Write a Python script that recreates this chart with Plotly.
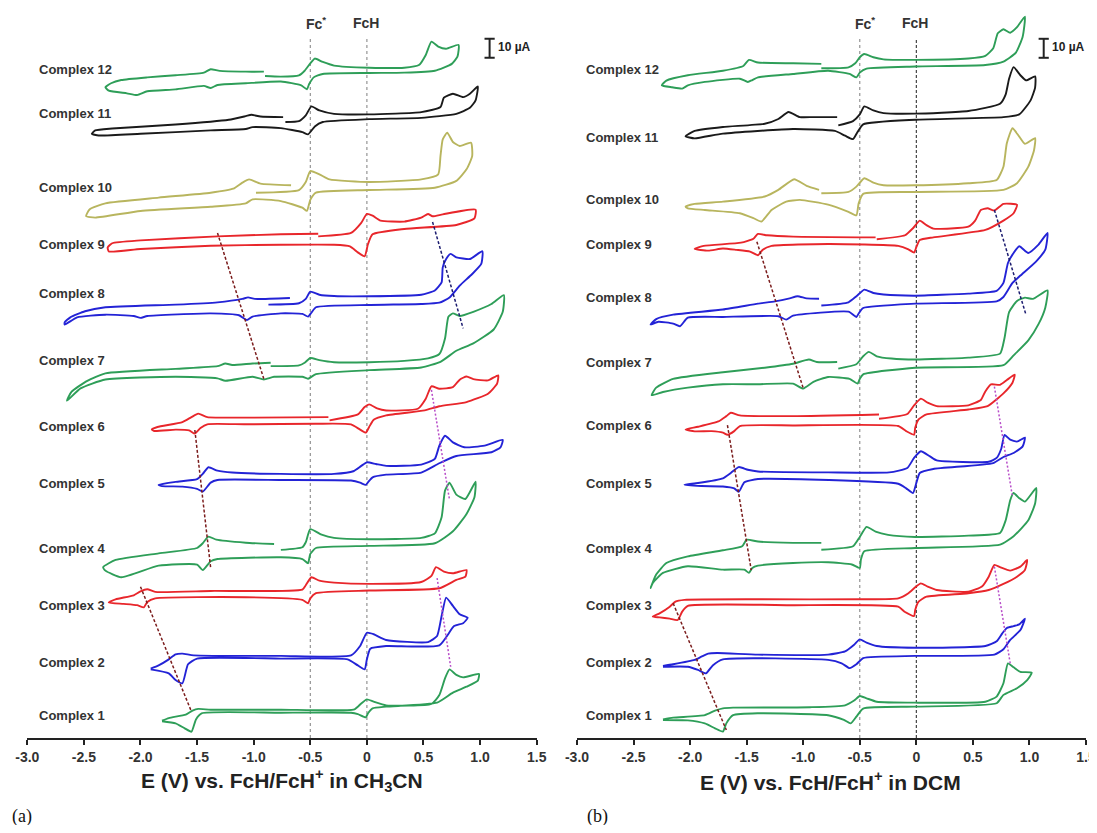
import plotly.graph_objects as go

# ---------------- data: (E in V, current in uA relative to each trace's baseline) ----------------
# Panel (a): CH3CN
a1 = [(-1.81,-3.0),(-1.75,-1.6),(-1.60,0.2),(-1.54,2.3),(-1.49,3.2),(-1.38,2.8),(-0.76,2.8),(-0.11,3.0),(-0.05,6.1),(0.00,8.2),(0.06,7.0),(0.17,5.1),(0.57,5.8),(0.64,10.5),(0.69,19.3),(0.73,24.0),(0.79,21.1),(0.85,19.8),(0.99,21.6),(0.98,18.1),(0.88,14.9),(0.76,11.8),(0.62,6.5),(0.17,4.4),(0.05,3.5),(0.01,0.9),(-0.01,-1.2),(-0.08,0.5),(-0.14,1.2),(-0.76,1.2),(-1.46,0.9),(-1.51,-2.3),(-1.55,-8.8),(-1.61,-7.0),(-1.69,-4.4),(-1.81,-3.3)]
a2 = [(-1.91,-3.5),(-1.84,-1.8),(-1.75,1.4),(-1.69,4.0),(-1.63,4.4),(-1.53,3.5),(-0.76,3.2),(-0.14,3.5),(-0.06,8.4),(0.00,15.4),(0.06,14.6),(0.17,11.6),(0.54,10.5),(0.62,13.7),(0.66,24.2),(0.70,33.9),(0.76,29.5),(0.82,25.1),(0.89,23.3),(0.85,20.4),(0.77,18.9),(0.64,8.8),(0.17,8.4),(0.03,7.0),(0.00,1.4),(-0.02,-3.9),(-0.08,-1.8),(-0.17,1.4),(-0.76,1.8),(-1.50,1.8),(-1.58,-1.2),(-1.63,-11.2),(-1.69,-9.5),(-1.75,-6.0),(-1.91,-3.9)]
a3 = [(-2.28,1.8),(-2.22,3.5),(-2.06,5.6),(-2.00,7.7),(-1.94,8.8),(-1.87,7.4),(-1.38,7.9),(-0.57,8.6),(-0.54,10.9),(-0.49,15.1),(-0.42,13.3),(-0.29,12.3),(0.02,11.6),(0.48,12.6),(0.57,15.8),(0.61,20.4),(0.68,18.1),(0.76,17.2),(0.88,18.9),(0.87,15.4),(0.79,13.7),(0.64,9.3),(0.02,8.1),(-0.45,6.7),(-0.50,4.0),(-0.52,1.4),(-0.57,3.2),(-1.07,4.6),(-1.87,4.0),(-1.94,2.1),(-1.97,-0.7),(-2.03,0.4),(-2.15,1.1),(-2.28,1.8)]
a4 = [(-0.76,-0.5),(-0.57,0.9),(-0.54,3.5),(-0.50,10.4),(-0.40,7.5),(-0.29,5.8),(0.02,5.1),(0.48,5.8),(0.60,8.2),(0.66,16.7),(0.69,30.7),(0.73,34.9),(0.79,28.6),(0.87,26.3),(0.96,35.4),(0.95,27.2),(0.88,18.4),(0.76,9.3),(0.60,3.0),(0.02,1.6),(-0.45,0.5),(-0.50,-2.6),(-0.52,-7.5),(-0.57,-5.3),(-0.76,-4.4),(-1.32,-5.3),(-1.38,-6.5),(-1.45,-11.1),(-1.50,-8.2),(-1.84,-8.8),(-2.17,-14.9),(-2.31,-11.4),(-2.33,-9.6),(-2.22,-5.8),(-1.84,-2.3),(-1.50,0.5),(-1.45,3.0),(-1.40,6.5),(-1.33,4.9),(-1.07,3.3),(-0.82,2.6)]
a5 = [(-1.84,-0.4),(-1.69,1.1),(-1.50,2.5),(-1.45,5.3),(-1.40,8.8),(-1.32,7.0),(-1.19,6.0),(-0.76,5.3),(-0.29,5.3),(-0.12,6.7),(-0.05,9.5),(0.00,11.4),(0.08,10.5),(0.17,9.5),(0.48,10.2),(0.60,13.2),(0.64,20.2),(0.69,25.4),(0.76,21.9),(0.86,19.3),(1.04,20.2),(1.20,23.2),(1.18,19.3),(1.10,16.7),(0.79,14.7),(0.64,10.9),(0.48,6.0),(0.17,4.9),(0.05,3.5),(0.01,0.9),(-0.01,-0.5),(-0.06,0.7),(-0.14,1.8),(-0.76,2.1),(-1.32,2.1),(-1.38,0.7),(-1.45,-4.0),(-1.50,-2.6),(-1.63,-1.4),(-1.81,-1.1),(-1.84,-0.4)]
a6 = [(-0.33,3.0),(-0.08,6.1),(-0.02,10.0),(0.02,11.4),(0.09,9.3),(0.17,8.2),(0.45,9.1),(0.52,14.4),(0.57,20.9),(0.64,19.6),(0.76,20.5),(0.82,24.4),(0.88,26.1),(0.94,24.7),(1.07,24.0),(1.16,26.7),(1.15,22.3),(1.07,17.0),(0.88,12.6),(0.64,10.4),(0.51,8.2),(0.17,5.6),(0.06,3.3),(0.02,-0.5),(-0.01,-3.5),(-0.06,-1.9),(-0.14,0.9),(-0.45,1.2),(-1.07,0.9),(-1.41,0.9),(-1.47,-1.1),(-1.52,-4.0),(-1.57,-2.3),(-1.69,-1.9),(-1.88,-2.6),(-1.90,-1.8),(-1.85,-0.5),(-1.63,2.1),(-1.55,4.7),(-1.49,6.5),(-1.41,4.7),(-1.07,4.4),(-0.34,4.7)]
a7 = [(-0.85,-3.2),(-0.60,-2.8),(-0.55,-1.4),(-0.50,1.1),(-0.42,0.0),(-0.29,-1.1),(0.02,-1.1),(0.33,-0.4),(0.54,0.9),(0.64,3.2),(0.69,11.4),(0.72,22.8),(0.76,24.6),(0.82,23.2),(0.94,25.4),(1.10,29.5),(1.21,34.2),(1.20,25.4),(1.12,16.1),(0.94,8.8),(0.79,4.9),(0.65,-0.9),(0.48,-3.9),(0.02,-5.3),(-0.45,-7.4),(-0.52,-9.8),(-0.57,-8.8),(-0.82,-8.8),(-0.91,-10.2),(-1.01,-8.8),(-1.25,-10.9),(-1.32,-9.6),(-1.69,-8.8),(-2.31,-10.2),(-2.53,-14.9),(-2.65,-21.4),(-2.61,-16.7),(-2.47,-10.9),(-2.31,-7.0),(-1.69,-4.6),(-1.32,-3.2),(-1.25,-1.8),(-1.19,-2.6),(-1.01,-1.8),(-0.85,-1.4)]
a8 = [(-0.87,-5.6),(-0.60,-4.9),(-0.54,-2.6),(-0.50,1.2),(-0.42,-0.4),(-0.29,-1.1),(0.02,-1.2),(0.48,-0.4),(0.60,1.8),(0.66,6.1),(0.67,14.0),(0.70,18.4),(0.74,21.1),(0.79,19.3),(0.91,18.4),(1.02,22.5),(1.01,15.8),(0.93,10.5),(0.82,4.4),(0.73,-1.8),(0.64,-4.6),(0.48,-5.3),(0.02,-5.8),(-0.45,-7.0),(-0.49,-9.8),(-0.52,-11.9),(-0.57,-10.5),(-0.76,-10.2),(-1.01,-11.9),(-1.06,-13.7),(-1.13,-11.2),(-1.38,-10.2),(-1.94,-11.6),(-2.00,-12.6),(-2.06,-11.6),(-2.31,-10.9),(-2.56,-12.3),(-2.67,-16.1),(-2.67,-14.9),(-2.62,-12.3),(-2.49,-9.1),(-2.31,-7.0),(-1.69,-5.6),(-1.32,-4.4),(-1.10,-2.6),(-1.05,-1.8),(-0.99,-2.6),(-0.68,-2.1)]
a9 = [(-0.43,4.0),(-0.14,5.8),(-0.05,11.1),(0.00,15.8),(0.05,14.9),(0.12,12.3),(0.33,11.8),(0.48,13.9),(0.54,15.8),(0.58,14.6),(0.67,15.6),(0.96,18.1),(0.95,13.5),(0.79,10.0),(0.33,7.9),(0.05,5.1),(0.01,0.0),(-0.02,-6.5),(-0.08,-4.4),(-0.15,-1.2),(-0.29,-0.4),(-0.76,-0.4),(-1.38,-0.9),(-2.00,-2.6),(-2.28,-3.9),(-2.29,-1.8),(-2.25,0.4),(-2.00,1.9),(-1.32,4.0),(-0.76,5.1),(-0.43,5.4)]
a10 = [(-0.98,-3.0),(-0.60,-1.6),(-0.54,2.6),(-0.50,8.4),(-0.42,6.7),(-0.33,4.0),(0.02,2.6),(0.48,4.0),(0.63,6.7),(0.65,16.3),(0.67,25.1),(0.71,28.6),(0.76,23.7),(0.82,21.6),(0.92,23.3),(0.93,16.3),(0.88,9.3),(0.79,3.2),(0.60,-0.4),(0.02,-1.6),(-0.45,-3.0),(-0.50,-6.8),(-0.53,-12.6),(-0.57,-10.9),(-0.76,-7.4),(-1.01,-6.5),(-1.07,-8.6),(-1.38,-10.4),(-2.00,-12.6),(-2.40,-16.1),(-2.48,-15.3),(-2.45,-11.8),(-2.31,-8.6),(-1.84,-5.6),(-1.38,-3.0),(-1.18,-0.9),(-1.10,2.3),(-1.04,4.0),(-0.94,1.8),(-0.67,0.9)]
a11 = [(-0.72,-4.7),(-0.60,-4.2),(-0.54,-1.2),(-0.49,3.5),(-0.42,1.4),(-0.29,-0.4),(0.02,-0.7),(0.48,0.5),(0.65,3.2),(0.68,8.1),(0.76,10.2),(0.85,8.4),(0.91,10.2),(0.98,14.0),(0.96,6.7),(0.91,2.8),(0.79,-0.4),(0.48,-2.5),(0.02,-3.2),(-0.39,-4.7),(-0.46,-7.0),(-0.52,-11.2),(-0.57,-10.0),(-0.76,-7.9),(-1.01,-7.4),(-1.07,-8.4),(-1.38,-9.1),(-2.00,-10.9),(-2.37,-11.8),(-2.43,-10.9),(-2.40,-9.1),(-2.25,-8.1),(-1.69,-6.0),(-1.22,-3.5),(-1.07,-1.6),(-1.02,-0.9),(-0.94,-1.8),(-0.74,-2.1)]
a12 = [(-0.90,-3.2),(-0.76,-3.5),(-0.60,-2.8),(-0.55,-0.4),(-0.50,3.5),(-0.46,6.0),(-0.39,4.2),(-0.29,2.3),(0.02,1.2),(0.33,1.2),(0.46,2.6),(0.52,7.9),(0.57,14.9),(0.63,12.3),(0.70,11.2),(0.81,13.2),(0.80,7.0),(0.75,3.2),(0.60,-0.4),(0.33,-1.4),(0.02,-1.6),(-0.39,-2.1),(-0.47,-3.9),(-0.51,-7.4),(-0.53,-10.2),(-0.58,-8.1),(-0.76,-6.1),(-1.07,-7.0),(-1.32,-7.9),(-1.38,-9.5),(-1.44,-8.4),(-1.69,-10.2),(-1.94,-11.2),(-2.03,-13.2),(-2.12,-12.3),(-2.28,-10.9),(-2.31,-9.1),(-2.26,-7.0),(-2.17,-5.3),(-1.94,-3.9),(-1.69,-2.8),(-1.44,-1.4),(-1.38,0.4),(-1.30,-0.5),(-1.07,-0.9),(-0.91,-0.9)]

# Panel (b): DCM
b1 = [(-2.24,-1.8),(-2.15,-0.9),(-1.87,0.4),(-1.78,2.8),(-1.71,4.0),(-1.62,4.4),(-0.94,4.6),(-0.63,5.6),(-0.55,8.1),(-0.50,10.5),(-0.44,9.3),(-0.35,7.5),(-0.01,7.0),(0.61,7.5),(0.71,10.2),(0.77,17.2),(0.81,27.7),(0.86,25.6),(0.92,23.2),(1.02,22.8),(0.98,18.9),(0.89,14.6),(0.77,11.1),(0.71,6.7),(-0.01,4.9),(-0.47,3.9),(-0.53,-0.4),(-0.58,-3.9),(-0.64,-2.1),(-0.78,0.4),(-1.40,1.4),(-1.62,0.4),(-1.68,-3.9),(-1.71,-8.2),(-1.78,-6.5),(-1.87,-3.9),(-2.02,-2.3),(-2.24,-2.1)]
b2 = [(-2.24,-2.1),(-2.15,-1.2),(-1.96,1.1),(-1.90,2.8),(-1.84,4.4),(-1.76,4.7),(-1.40,3.9),(-0.78,3.9),(-0.63,5.6),(-0.55,9.1),(-0.50,11.9),(-0.44,10.2),(-0.35,8.4),(-0.01,7.5),(0.61,8.4),(0.71,10.9),(0.76,15.1),(0.80,17.9),(0.86,18.9),(0.91,19.8),(0.96,22.8),(0.92,16.8),(0.83,11.6),(0.77,6.7),(0.69,3.9),(-0.01,3.2),(-0.47,2.1),(-0.53,-1.2),(-0.59,-3.2),(-0.66,-0.7),(-0.78,1.1),(-1.71,1.4),(-1.80,-1.8),(-1.86,-6.0),(-1.93,-4.2),(-2.02,-2.5),(-2.24,-2.5)]
b3 = [(-2.33,-5.6),(-2.27,-3.9),(-2.18,-0.4),(-2.13,2.3),(-2.05,3.2),(-1.40,3.5),(-0.47,3.5),(-0.16,4.0),(-0.07,6.7),(-0.01,9.8),(0.04,11.9),(0.10,10.2),(0.18,8.4),(0.46,7.5),(0.58,10.2),(0.64,15.4),(0.69,21.6),(0.74,20.4),(0.83,18.6),(0.92,20.7),(0.98,24.2),(0.96,18.9),(0.89,15.4),(0.77,11.6),(0.64,8.4),(0.46,6.7),(0.09,4.9),(0.02,2.3),(-0.01,-2.1),(-0.02,-5.3),(-0.10,-3.2),(-0.16,-0.4),(-1.09,0.4),(-2.02,0.0),(-2.07,-3.0),(-2.11,-7.4),(-2.18,-6.7),(-2.27,-6.0),(-2.33,-5.6)]
b4 = [(-0.84,-0.4),(-0.56,1.4),(-0.50,6.3),(-0.44,11.6),(-0.36,9.1),(-0.25,7.4),(-0.01,6.3),(0.46,7.0),(0.74,8.4),(0.79,15.1),(0.83,25.6),(0.86,29.5),(0.91,26.7),(0.96,24.9),(1.06,32.1),(1.05,23.9),(0.99,15.1),(0.86,6.7),(0.74,2.3),(-0.01,0.5),(-0.46,-1.2),(-0.49,-5.6),(-0.50,-10.0),(-0.57,-8.2),(-0.78,-7.0),(-1.09,-7.4),(-1.40,-8.8),(-1.45,-10.0),(-1.48,-12.6),(-1.52,-10.9),(-1.71,-10.9),(-2.02,-9.1),(-2.24,-12.6),(-2.33,-17.9),(-2.35,-20.5),(-2.30,-13.5),(-2.21,-7.4),(-2.02,-3.9),(-1.71,-0.7),(-1.54,1.4),(-1.50,4.9),(-1.40,3.9),(-1.09,3.2),(-0.84,3.2)]
b5 = [(-2.05,-0.9),(-1.93,0.0),(-1.71,2.5),(-1.64,5.3),(-1.57,8.4),(-1.49,7.0),(-1.40,6.1),(-0.78,5.6),(-0.24,5.6),(-0.08,7.9),(-0.02,13.2),(0.04,16.7),(0.12,14.0),(0.18,11.9),(0.64,11.2),(0.71,13.2),(0.75,17.9),(0.78,25.3),(0.83,22.8),(0.89,21.8),(0.96,23.9),(0.94,19.3),(0.86,15.8),(0.77,13.7),(0.68,10.5),(0.15,7.4),(0.03,5.3),(0.00,0.0),(-0.03,-5.3),(-0.09,-2.8),(-0.16,-0.4),(-1.40,2.1),(-1.52,0.4),(-1.57,-4.6),(-1.61,-2.8),(-1.71,-1.8),(-1.90,-1.6),(-2.05,-0.9)]
b6 = [(-0.33,3.3),(-0.08,5.8),(-0.02,10.4),(0.04,13.9),(0.10,11.8),(0.18,10.0),(0.46,10.4),(0.57,13.2),(0.61,17.7),(0.66,21.4),(0.74,21.2),(0.80,23.7),(0.87,26.5),(0.85,22.3),(0.77,16.7),(0.63,10.0),(0.46,8.2),(0.09,5.6),(0.02,3.0),(-0.01,-1.4),(-0.02,-5.1),(-0.09,-3.2),(-0.16,-0.5),(-1.09,-0.2),(-1.56,-0.5),(-1.61,-3.2),(-1.67,-5.1),(-1.71,-4.0),(-1.81,-3.2),(-1.96,-3.3),(-2.04,-2.3),(-1.93,-0.9),(-1.75,1.9),(-1.68,4.7),(-1.64,6.5),(-1.56,5.1),(-1.09,4.7),(-0.33,5.6)]
b7 = [(-0.69,-3.0),(-0.53,-0.7),(-0.47,3.5),(-0.42,5.8),(-0.35,3.5),(-0.22,2.3),(-0.01,1.8),(0.46,2.8),(0.74,4.9),(0.78,13.3),(0.82,26.8),(0.89,32.6),(0.96,34.4),(1.03,33.7),(1.16,38.2),(1.14,29.1),(1.08,20.4),(0.99,11.9),(0.86,4.0),(0.77,-1.2),(-0.01,-2.5),(-0.47,-6.0),(-0.50,-8.4),(-0.52,-10.9),(-0.59,-8.4),(-0.78,-7.4),(-0.91,-10.0),(-1.00,-13.5),(-1.09,-10.9),(-1.40,-11.2),(-1.71,-11.2),(-2.02,-13.0),(-2.24,-15.3),(-2.34,-17.0),(-2.30,-13.0),(-2.15,-8.4),(-1.71,-4.9),(-1.34,-2.5),(-1.09,-0.4),(-0.95,1.8),(-0.88,0.5),(-0.70,0.5)]
b8 = [(-0.84,-4.0),(-0.60,-2.3),(-0.53,0.9),(-0.46,4.4),(-0.38,2.6),(-0.29,1.8),(-0.01,1.2),(0.46,2.3),(0.71,3.7),(0.77,7.9),(0.81,18.4),(0.86,23.7),(0.91,27.2),(0.99,23.7),(1.08,28.1),(1.16,34.2),(1.14,25.4),(1.06,19.3),(0.92,11.8),(0.85,7.9),(0.77,0.5),(0.71,-1.8),(-0.01,-3.0),(-0.47,-5.3),(-0.51,-8.2),(-0.53,-10.0),(-0.60,-7.2),(-1.09,-9.3),(-1.15,-11.4),(-1.22,-9.6),(-1.71,-10.0),(-2.02,-10.4),(-2.09,-14.9),(-2.15,-13.5),(-2.28,-12.5),(-2.35,-14.0),(-2.30,-11.1),(-2.15,-8.8),(-1.71,-6.1),(-1.40,-3.0),(-1.25,-1.8),(-1.12,-0.2),(-1.05,0.9),(-0.97,-0.2),(-0.86,-0.4)]
b9 = [(-0.35,3.0),(-0.10,5.1),(-0.03,8.8),(0.03,12.8),(0.09,10.4),(0.15,8.6),(0.46,9.6),(0.52,12.8),(0.57,18.4),(0.63,19.3),(0.69,18.1),(0.77,21.6),(0.89,21.1),(0.86,16.7),(0.77,12.8),(0.61,7.9),(0.15,4.0),(0.03,2.6),(0.00,-1.2),(-0.02,-4.0),(-0.07,-2.3),(-0.16,-0.5),(-0.78,0.5),(-1.28,-0.5),(-1.36,-2.6),(-1.40,-5.4),(-1.47,-3.5),(-1.59,-2.6),(-1.71,-1.9),(-1.84,-3.0),(-1.96,-2.1),(-1.88,-0.5),(-1.55,1.2),(-1.44,3.3),(-1.40,5.8),(-1.32,5.1),(-1.09,4.4),(-0.36,4.0)]
b10 = [(-0.84,3.5),(-0.60,4.2),(-0.53,7.0),(-0.46,11.4),(-0.38,9.1),(-0.29,7.7),(-0.01,7.7),(0.46,8.8),(0.71,10.5),(0.77,17.5),(0.80,29.8),(0.85,37.7),(0.91,33.3),(0.96,29.5),(1.05,32.5),(1.04,26.0),(0.99,17.5),(0.89,8.8),(0.77,5.3),(-0.01,4.2),(-0.47,3.2),(-0.51,-1.8),(-0.53,-8.1),(-0.60,-6.3),(-0.78,-2.5),(-1.03,0.0),(-1.15,-0.9),(-1.28,-5.3),(-1.37,-11.4),(-1.44,-9.6),(-1.56,-7.0),(-1.87,-5.3),(-2.02,-4.4),(-2.04,-3.5),(-1.96,-2.1),(-1.71,-0.9),(-1.34,1.8),(-1.22,5.3),(-1.08,10.9),(-0.97,7.4),(-0.86,5.3)]
b11 = [(-0.69,6.1),(-0.56,8.4),(-0.50,11.9),(-0.46,16.1),(-0.38,14.0),(-0.29,12.6),(-0.01,12.3),(0.46,13.7),(0.74,17.5),(0.79,22.5),(0.82,30.7),(0.86,36.8),(0.92,32.5),(0.97,29.8),(1.05,31.9),(1.05,26.0),(1.01,19.3),(0.91,11.9),(0.77,10.5),(-0.01,9.1),(-0.47,6.7),(-0.52,2.6),(-0.56,-1.1),(-0.63,0.7),(-0.72,3.2),(-1.09,4.2),(-1.71,1.8),(-1.96,-0.7),(-2.04,0.4),(-1.96,3.2),(-1.71,5.3),(-1.34,7.0),(-1.22,9.5),(-1.13,13.2),(-1.03,10.5),(-0.91,10.5),(-0.70,10.5)]
b12 = [(-0.84,0.9),(-0.60,1.4),(-0.54,3.5),(-0.50,6.7),(-0.46,8.4),(-0.38,6.7),(-0.29,5.6),(-0.01,5.3),(0.46,6.0),(0.61,7.4),(0.68,11.4),(0.72,19.3),(0.77,21.4),(0.83,19.6),(0.89,22.5),(0.96,28.1),(0.94,17.5),(0.88,9.1),(0.77,4.4),(0.61,2.6),(-0.01,1.8),(-0.44,0.7),(-0.50,-1.4),(-0.53,-3.9),(-0.59,-2.1),(-0.78,-0.4),(-1.09,-2.1),(-1.40,-3.9),(-1.45,-5.3),(-1.49,-6.3),(-1.56,-4.6),(-1.87,-6.3),(-2.02,-8.1),(-2.07,-9.8),(-2.16,-9.1),(-2.25,-8.1),(-2.21,-5.6),(-2.02,-2.8),(-1.71,-0.4),(-1.53,2.1),(-1.48,5.3),(-1.40,3.9),(-1.09,3.5),(-0.84,3.2)]

LABELS = ["Complex %d" % k for k in range(1, 13)]
A_CURVES = [a1, a2, a3, a4, a5, a6, a7, a8, a9, a10, a11, a12]
B_CURVES = [b1, b2, b3, b4, b5, b6, b7, b8, b9, b10, b11, b12]
# vertical stacking offsets (uA) of each complex
A_OFFSETS = [12.1, 40.0, 69.5, 99.5, 133.7, 164.2, 198.9, 233.7, 260.0, 290.0, 328.9, 351.6]
B_OFFSETS = [11.6, 40.0, 69.5, 99.5, 134.2, 164.7, 197.4, 231.6, 259.5, 283.2, 316.3, 351.6]

GREEN, BLUE, RED, OLIVE, BLACK = "#2e9e58", "#2323d6", "#e8262b", "#b8b55e", "#1a1a1a"
COLORS = [GREEN, BLUE, RED, GREEN, BLUE, RED, GREEN, BLUE, RED, OLIVE, BLACK, GREEN]

# trend guide lines: (E1, y1), (E2, y2), kind
A_GUIDES = [((-1.32, 265.8), (-0.91, 188.9), "r"), ((0.58, 271.6), (0.85, 215.6), "n"),
            ((0.57, 183.2), (0.73, 125.3), "p"), ((-1.52, 162.1), (-1.38, 89.5), "r"),
            ((-2.00, 79.6), (-1.55, 13.9), "r"), ((0.62, 84.2), (0.74, 37.5), "p")]
B_GUIDES = [((-1.41, 261.2), (-1.00, 184.1), "r"), ((0.69, 277.9), (0.97, 222.6), "n"),
            ((-1.67, 164.7), (-1.46, 88.4), "r"), ((0.69, 184.9), (0.85, 127.0), "p"),
            ((-2.15, 70.9), (-1.68, 4.2), "r"), ((0.69, 90.2), (0.83, 39.3), "p")]
GUIDE_STYLE = {"r": dict(color="#7b1c1c", width=1.5, dash="3px,2px"),
               "n": dict(color="#1c1c70", width=1.5, dash="3px,2px"),
               "p": dict(color="#b84dc9", width=1.5, dash="2px,2px")}

REF_E = [-0.5, 0.0]
REF_TOP = 368.4
TICKS = [-3.0, -2.5, -2.0, -1.5, -1.0, -0.5, 0.0, 0.5, 1.0, 1.5]
TICKTEXT = ["-3.0", "-2.5", "-2.0", "-1.5", "-1.0", "-0.5", "0", "0.5", "1.0", "1.5"]
YMAX = 384.21   # plot area is 730 px tall, 1.9 px per uA

FONT = "Liberation Sans, Arial, sans-serif"

fig = go.Figure()

panels = [
    ("x", "y", A_CURVES, A_OFFSETS, A_GUIDES, ["#8a8a8a", "#8a8a8a"], ["dot", "dot"], -2.915, 1.084),
    ("x2", "y2", B_CURVES, B_OFFSETS, B_GUIDES, ["#8a8a8a", "#333333"], ["dot", "3px,2px"], -2.94, 1.126),
]

annotations = []
shapes = []
for xa, ya, curves, offsets, guides, refcols, refdash, labx, barx in panels:
    for e, c, d in zip(REF_E, refcols, refdash):
        fig.add_trace(go.Scatter(x=[e, e], y=[0, REF_TOP], mode="lines",
                                 line=dict(color=c, width=1.1, dash=d),
                                 xaxis=xa, yaxis=ya, showlegend=False, hoverinfo="skip"))
    for k, pts in enumerate(curves):
        fig.add_trace(go.Scatter(x=[p[0] for p in pts], y=[offsets[k] + p[1] for p in pts],
                                 mode="lines",
                                 line=dict(color=COLORS[k], width=1.9, shape="spline", smoothing=0.5),
                                 xaxis=xa, yaxis=ya, showlegend=False, hoverinfo="skip"))
        annotations.append(dict(x=labx, y=offsets[k], xref=xa, yref=ya, text="<b>%s</b>" % LABELS[k],
                                showarrow=False, xanchor="left", yanchor="middle",
                                font=dict(family=FONT, size=13, color="#333333")))
    for (p1, p2, kind) in guides:
        fig.add_trace(go.Scatter(x=[p1[0], p2[0]], y=[p1[1], p2[1]], mode="lines",
                                 line=GUIDE_STYLE[kind], xaxis=xa, yaxis=ya,
                                 showlegend=False, hoverinfo="skip"))
    annotations.append(dict(x=-0.45, y=376.3, xref=xa, yref=ya, text="<b>Fc<sup>*</sup></b>",
                            showarrow=False, xanchor="center",
                            font=dict(family=FONT, size=14, color="#333333")))
    annotations.append(dict(x=-0.01, y=376.3, xref=xa, yref=ya, text="<b>FcH</b>",
                            showarrow=False, xanchor="center",
                            font=dict(family=FONT, size=14, color="#333333")))
    y0, y1 = 358.0, 368.0
    for (xx0, yy0, xx1, yy1) in [(barx, y0, barx, y1), (barx - 0.045, y0, barx + 0.045, y0),
                                 (barx - 0.045, y1, barx + 0.045, y1)]:
        shapes.append(dict(type="line", xref=xa, yref=ya, x0=xx0, y0=yy0, x1=xx1, y1=yy1,
                           line=dict(color="#222222", width=2)))
    annotations.append(dict(x=barx + 0.06, y=363.5, xref=xa, yref=ya, text="<b>10 µA</b>",
                            showarrow=False, xanchor="left",
                            font=dict(family=FONT, size=12, color="#222222")))

# paper coords: plot area is 1089 x 730 px (page is offset by the 8 px body margin)
annotations.append(dict(x=0.2516, y=-0.0585, xref="paper", yref="paper",
                        text="<b>E (V) vs. FcH/FcH<sup>+</sup> in CH<sub>3</sub>CN</b>",
                        showarrow=False, xanchor="center", yanchor="middle",
                        font=dict(family=FONT, size=21, color="#222222")))
annotations.append(dict(x=0.7557, y=-0.0585, xref="paper", yref="paper",
                        text="<b>E (V) vs. FcH/FcH<sup>+</sup> in DCM</b>",
                        showarrow=False, xanchor="center", yanchor="middle",
                        font=dict(family=FONT, size=21, color="#222222")))
annotations.append(dict(x=0.0129, y=-0.1075, xref="paper", yref="paper", text="(a)", showarrow=False,
                        xanchor="center", yanchor="middle",
                        font=dict(family="Liberation Serif, Times New Roman, serif", size=18, color="#111111")))
annotations.append(dict(x=0.5409, y=-0.1075, xref="paper", yref="paper", text="(b)", showarrow=False,
                        xanchor="center", yanchor="middle",
                        font=dict(family="Liberation Serif, Times New Roman, serif", size=18, color="#111111")))

xcommon = dict(range=[-3.0, 1.5], showline=True, linecolor="#222222", linewidth=2,
               ticks="outside", ticklen=5, tickwidth=2, tickcolor="#222222",
               tickvals=TICKS, ticktext=["<b>%s</b>" % t for t in TICKTEXT],
               showgrid=False, zeroline=False, automargin=False, ticklabeloverflow="allow",
               tickfont=dict(family=FONT, size=14, color="#333333"))
ycommon = dict(range=[0, YMAX], domain=[0.0, 1.0], visible=False, showgrid=False, zeroline=False,
               automargin=False)

fig.update_layout(
    width=1089, height=817,
    margin=dict(l=0, r=0, t=0, b=87, pad=0, autoexpand=False),
    paper_bgcolor="white", plot_bgcolor="white",
    xaxis=dict(domain=[0.01772, 0.48549], anchor="y", **xcommon),
    xaxis2=dict(domain=[0.52250, 0.98990], anchor="y2", **xcommon),
    yaxis=dict(anchor="x", **ycommon),
    yaxis2=dict(anchor="x2", **ycommon),
    annotations=annotations, shapes=shapes, showlegend=False,
)

fig.write_html("out.html")
